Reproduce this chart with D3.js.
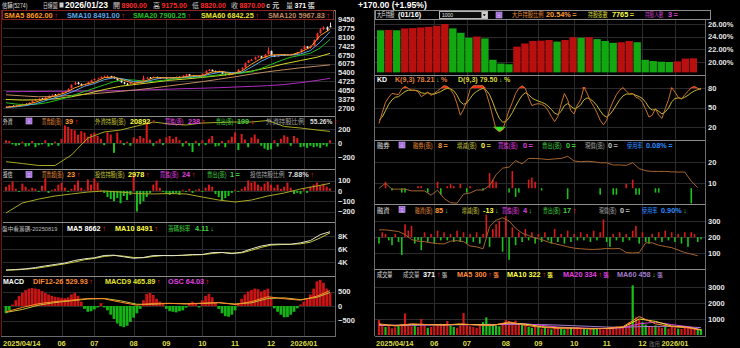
<!DOCTYPE html>
<html>
<head>
<meta charset="utf-8">
<script src="https://cdn.jsdelivr.net/npm/d3@7/dist/d3.min.js"></script>
<style>
  body { margin: 0; background: #000; }
  text { font-family: "Liberation Sans", "Noto Sans CJK TC", sans-serif; }
</style>
</head>
<body>
<svg id="chart" width="740" height="348"></svg>
<script>
// ---------- data (one sample every other trading day, 2025/04/14 .. 2026/01/23) ----------
const N = 100;
const monthIdx = [0, 17, 27, 39, 49, 60, 70, 81, 91];
const monthLabels = ["2025/04/14", "06", "07", "08", "09", "10", "11", "12", "2026/01"];

const open = [2750,2790,2860,2830,2920,2960,3010,3000,3120,3260,
  3360,3420,3390,3510,3640,3720,3690,3800,3920,3970,
  4200,4480,4620,4500,4420,4500,4660,4820,4920,4970,
  5060,5090,5110,5040,4940,4790,4640,4540,4510,4590,
  4610,4660,4720,4960,5010,4990,5060,5010,4990,5010,
  4960,5010,4990,5060,5010,5160,5260,5140,5060,5110,
  5100,5320,5520,5590,5490,5460,5490,5290,5210,5260,
  5360,5420,5620,5780,6120,6310,6380,6570,6610,6520,
  6780,7020,6690,6610,6690,6760,6710,6730,6790,6760,
  6920,7170,7360,7260,7420,7880,8380,8680,8820,8900];
const high = [2830,2880,2900,2930,2990,3040,3050,3130,3280,3400,
  3450,3460,3530,3650,3740,3760,3810,3950,4000,4200,
  4500,4700,4680,4560,4520,4700,4850,4950,5000,5100,
  5150,5180,5140,5080,4980,4830,4680,4600,4620,4660,
  4700,4760,5150,5060,5050,5090,5080,5040,5060,5030,
  5040,5050,5080,5090,5190,5290,5280,5170,5140,5130,
  5340,5560,5650,5620,5530,5550,5510,5320,5290,5390,
  5440,5650,5800,6150,6350,6420,6600,6680,6650,6800,
  7300,7060,6720,6720,6800,6790,6760,6820,6810,6950,
  7200,7450,7400,7450,7900,8400,8750,8900,8880,9175];
const low = [2700,2770,2800,2810,2890,2930,2950,2980,3100,3230,
  3330,3350,3370,3490,3610,3650,3670,3780,3880,3950,
  4180,4450,4480,4350,4380,4480,4640,4790,4880,4940,
  5020,5050,5000,4920,4760,4620,4500,4460,4490,4550,
  4580,4640,4700,4920,4940,4970,4970,4950,4960,4920,
  4940,4950,4970,4980,4990,5140,5120,5020,5040,5050,
  5080,5300,5490,5470,5420,5440,5280,5170,5190,5240,
  5340,5400,5600,5760,6100,6280,6360,6540,6450,6500,
  6760,6680,6560,6590,6670,6660,6680,6710,6710,6740,
  6900,7150,7200,7200,7400,7850,8350,8600,8550,8820];
const close = [2780,2850,2820,2900,2950,3000,2980,3100,3250,3350,
  3400,3380,3500,3620,3700,3680,3780,3900,3950,4150,
  4450,4600,4520,4400,4480,4650,4800,4900,4950,5050,
  5080,5100,5050,4950,4800,4650,4550,4500,4580,4600,
  4650,4700,4950,5000,4980,5050,5000,4980,5000,4950,
  5000,4980,5050,5000,5150,5250,5150,5050,5100,5080,
  5300,5500,5580,5500,5450,5500,5300,5200,5250,5350,
  5400,5600,5750,6100,6300,6350,6550,6600,6500,6750,
  7050,6700,6600,6680,6750,6700,6720,6780,6750,6900,
  7150,7350,7250,7400,7850,8350,8650,8800,8650,8870];

// moving averages, every 3rd sample
const sma5 = [2760,2840,2950,3140,3400,3620,3840,4230,4490,4650,5000,5050,4800,4570,4700,4990,5000,
  4980,5040,5150,5150,5440,5470,5280,5500,6020,6460,6720,6750,6720,6950,7300,8200,8662];
const sma10 = [2740,2790,2880,3020,3250,3480,3720,4000,4350,4550,4850,5000,4900,4700,4650,4850,4990,
  4990,5010,5080,5130,5300,5450,5380,5400,5800,6250,6600,6680,6730,6800,7050,7700,8491];
const sma20 = [3100,3000,2950,2980,3080,3250,3450,3700,3950,4200,4450,4700,4850,4820,4750,4720,4800,
  4900,4980,5020,5060,5150,5250,5320,5350,5450,5700,6000,6300,6550,6700,6850,7250,7900.25];
// every 5th sample
const sma60 = [3350,3300,3320,3400,3550,3800,4100,4350,4500,4650,4800,4900,5020,5150,5300,5500,5750,6050,6300,6550,6842.25];
const sma120 = [3700,3620,3550,3580,3650,3750,3850,3960,4080,4220,4380,4540,4700,4880,5070,5270,5450,5600,5750,5870,5967.83];
const sma240 = [3935,3945,3955,3965,3975,3985,3995,4020,4050,4090,4130,4170,4200,4240,4290,4340,4390,4480,4620,4790,4950];

// 外資 net buy (張) and holdings (every 5th sample)
const foreignNet = [40,30,-20,-40,-30,20,-50,-40,30,-60,
  -30,-20,40,-50,-30,20,-40,60,250,230,
  200,180,120,170,150,90,130,150,100,60,
  -30,150,120,-140,150,40,-30,20,-40,80,
  60,100,70,290,50,-40,30,60,-30,80,
  100,60,90,40,-50,30,-40,-130,30,-40,
  40,-30,60,100,-50,-40,30,-60,40,90,
  150,-100,130,50,-60,80,120,60,-40,-80,
  -100,-90,40,-50,60,110,90,-40,100,70,
  -60,-50,-70,-40,-60,-50,-70,-30,-50,39];
const foreignHold = [17256,17040,16800,16800,18060,20100,20820,21060,21540,22020,21780,
  21660,21900,21960,22020,22020,22200,21480,21300,21060,20892];
const foreignStats = [39, 20892, 238, 199, 55.26]; // net, hold, buy, sell, ratio %

// 投信 net buy (張) and holdings (every 5th sample)
const trustNet = [40,60,90,20,-10,70,40,10,30,20,
  -10,50,120,-20,10,20,60,80,30,-10,
  20,60,100,30,10,110,60,120,80,10,
  -20,-60,-80,-100,-70,-120,-50,-90,-40,150,
  -200,-130,-100,-60,-20,60,100,30,-10,-30,
  -40,-30,-20,-40,10,-10,20,-20,10,20,
  -10,30,60,40,-30,-60,-90,-70,-50,-20,
  10,-10,20,40,100,80,90,60,40,70,
  90,60,30,60,20,40,80,30,-30,-20,
  -30,20,-20,40,60,80,50,70,40,23];
const trustHold = [190,1130,1500,1790,1980,2160,2260,2160,2020,1980,2020,1980,1690,1410,1220,1410,1790,2070,2450,2730,2978];
const trustStats = [23, 2978, 24, 1, 7.88];

// MACD: OSC bars every sample, DIF / MACD9 every 5th sample
const osc = [-250,-150,50,200,350,450,550,600,620,600,
  580,520,450,400,350,320,300,280,270,300,
  400,450,350,150,-100,-200,-180,-120,-50,100,
  -50,-150,-300,-450,-600,-700,-730,-680,-550,-400,
  -250,-100,200,420,450,380,250,150,60,-100,
  -180,-200,-220,-180,-150,-60,100,150,80,-50,
  200,350,420,300,120,-100,-250,-350,-370,-300,
  -150,100,250,400,500,550,600,580,500,550,
  600,300,-80,-200,-300,-390,-380,-300,-200,-80,
  50,150,250,400,600,850,900,800,600,450];
const dif = [-200,-50,80,150,200,260,250,130,30,90,90,70,100,120,50,150,320,250,200,340,529.93];
const macd9 = [-220,-120,30,120,180,240,260,180,60,60,90,80,85,110,70,110,260,280,220,300,465.89];
const oscLast = 64.03;

// 大戶持股比例 (%), weekly, 40 weeks to 01/16
const holderPct = [25.0,25.05,25.0,25.3,25.35,25.45,25.55,25.7,26.0,25.3,
  24.6,23.8,24.0,23.7,20.3,19.7,19.6,22.4,22.9,23.3,
  23.35,23.45,23.2,23.45,23.9,23.8,23.9,23.6,23.3,23.0,
  23.1,23.3,23.1,20.3,20.1,20.0,19.95,20.05,20.5,20.54];
const holderStats = [20.54, 7765, 3];

// KD(9,3)
const kVals = [25,42,58,66,72,71,70,79,83,80,
  77,77,75,67,70,74,69,72,76,80,
  84,83,78,70,56,38,47,60,78,84,
  84,84,84,72,55,35,16,12,15,30,
  46,58,72,80,84,80,65,53,55,56,
  55,52,45,36,28,36,55,72,62,45,
  40,54,62,82,72,60,52,42,30,23,
  30,48,60,70,77,81,76,71,72,66,
  64,58,47,35,38,48,38,33,48,62,
  81,74,66,63,70,75,81,83,80,78.21];
const dVals = [30,35,45,55,62,66,67,71,75,77,
  77,77,76,73,72,73,71,71,73,75,
  78,80,79,76,69,59,55,57,64,71,
  75,78,80,77,70,58,44,33,27,28,
  34,42,52,61,69,73,70,65,62,60,
  58,56,52,47,41,39,44,53,56,52,
  48,50,54,62,65,63,59,53,45,38,
  35,39,46,54,62,68,71,71,71,69,
  67,64,58,50,46,47,44,40,43,49,
  59,64,65,64,66,69,73,76,78,79.5];

// 融券: balance every 2nd sample, change every sample
const shortBal = [7.7,10,7.3,7.3,7.3,6.5,6.5,6.5,4.5,6.8,
  3,1,0.8,5,5.5,6.9,6.9,9,14,17,
  17.5,20.5,19,21.5,21.5,21.3,21,21.3,21.5,22.5,
  20.3,20,20.2,20,19.5,19.5,18.5,18.5,18.3,19.5,
  16.8,15.8,15.5,15.5,15.5,15.3,15.2,15.2,11,8];
const shortChg = [0,0,3,0,-1,0,0,-2,-2,0,
  0,0,1,1,0,-2,0,0,3,-3,
  0,1,2,1,0,2,0,-2,1,0,
  0,0,-1,0,7,4,3,0,0,0,
  -2,8,-4,-2,0,0,4,5,3,0,
  -1,0,0,0,0,0,0,0,-5,0,
  0,0,0,0,0,0,0,0,-3,0,
  0,0,-3,-3,0,0,2,0,4,-3,
  -3,0,0,0,0,-2,-2,0,0,0,
  0,0,0,0,0,0,-7,0,0,0];

// 融資: balance every 2nd sample, change every sample
const marginBal = [245,245,240,235,216,185,175,172,165,160,
  158,175,178,172,145,140,128,265,305,320,
  300,255,225,210,195,185,170,160,150,140,
  132,128,125,124,126,130,128,130,105,102,
  104,165,165,150,142,135,120,105,95,85];
const marginChg = [-40,30,20,-20,-50,20,-30,-110,80,40,
  70,-40,-20,-80,30,-30,20,-40,40,-20,
  30,-20,20,-30,40,-30,30,-40,20,-30,
  30,-40,20,140,-60,50,80,100,-90,130,
  -140,60,-50,30,-30,50,-20,30,-40,20,
  -30,30,-20,-40,50,-30,20,-40,40,-30,
  20,-20,30,-20,20,-30,40,-20,30,110,
  -30,-60,20,-20,30,-30,20,-20,40,70,
  -40,30,-30,-40,20,-20,30,-30,40,-20,
  30,-30,20,-40,30,-60,30,20,-30,-13];

// 成交量 (張) and its moving averages (every 5th sample)
const volume = [950,600,500,550,420,480,600,700,1350,650,
  550,600,500,1000,600,450,500,550,600,700,
  650,880,600,500,450,600,1380,700,550,500,
  450,600,800,1100,700,650,600,550,700,950,
  850,800,900,750,650,600,500,450,500,550,
  400,450,400,350,500,450,400,350,400,450,
  420,500,450,400,350,380,400,420,380,350,
  400,450,500,550,450,500,600,800,3100,1100,
  950,800,650,550,500,600,500,450,500,400,
  550,450,400,380,450,500,420,380,350,371];
const vma5 = [700,560,700,650,620,700,620,600,820,600,480,420,430,380,420,520,1150,700,520,450,300];
const vma10 = [650,600,650,650,640,660,650,620,760,680,520,450,430,400,410,480,1000,850,560,480,322];
const vma20 = [620,610,630,640,650,650,650,640,700,700,600,500,450,420,410,450,700,800,650,520,334];
const vma60 = [600,600,610,620,630,640,650,650,660,660,650,620,580,540,500,480,520,540,540,510,458];

const chipSlope = 4.11;
const marginStats = [85, -13, 4, 17, 0, 0.90];
const shortStats = [8, 0, 0, 0, 0, 0.08];

// ---------- drawing ----------
const svg = d3.select("#chart");
svg.append("rect").attr("width", 740).attr("height", 348).attr("fill", "#000");

const xL = d3.scaleLinear().domain([0, N - 1]).range([6, 330]);
const xR = d3.scaleLinear().domain([0, N - 1]).range([379, 701]);
const RED = "#dd1a1a", GREEN = "#1cc21c";
const UPC = "#ff2020", DNC = "#40d040";
const last = a => a[a.length - 1];
const stepped = (a, s) => a.map((v, k) => [Math.min(k * s, N - 1), v]);
const f2 = d3.format(".2f");

let clipId = 0;
function panel(side, top, bottom, y, ticks, fmt) {
  const x = side == "L" ? xL : xR;
  const x0 = side == "L" ? 3 : 375, x1 = side == "L" ? 335 : 705;
  const g = svg.append("g");
  g.selectAll(".vg").data(monthIdx.slice(1)).enter().append("line")
    .attr("x1", d => Math.round(x(d)) + .5).attr("x2", d => Math.round(x(d)) + .5)
    .attr("y1", top).attr("y2", bottom).attr("stroke", "#2c2c2c");
  g.selectAll(".hg").data(ticks).enter().append("line")
    .attr("x1", x0).attr("x2", x1)
    .attr("y1", d => Math.round(y(d)) + .5).attr("y2", d => Math.round(y(d)) + .5)
    .attr("stroke", "#2c2c2c");
  g.append("line").attr("x1", x0).attr("x2", x1)
    .attr("y1", Math.round(top) + .5).attr("y2", Math.round(top) + .5).attr("stroke", "#8c8c8c");
  const ax = g.append("g").attr("transform", `translate(${x1 + 3},0)`)
    .call(d3.axisRight(y).tickValues(ticks).tickSize(0).tickPadding(0).tickFormat(fmt || d3.format("d")));
  ax.select(".domain").remove();
  ax.selectAll("text").attr("fill", "#e6e6e6").attr("font-size", 7.5).attr("font-weight", "bold");
  const id = "clip" + clipId++;
  svg.append("clipPath").attr("id", id).append("rect")
    .attr("x", x0).attr("y", top + 1).attr("width", x1 - x0).attr("height", bottom - top - 1);
  const plot = g.append("g").attr("clip-path", `url(#${id})`);
  return { g, plot, x, y };
}

function line(p, pts, color, y, w) {
  const ys = y || p.y;
  p.plot.append("path").datum(pts)
    .attr("fill", "none").attr("stroke", color).attr("stroke-width", w || 1)
    .attr("d", d3.line().x(d => p.x(d[0])).y(d => ys(d[1])));
}

function bars(p, vals, base, w, colorFn) {
  p.plot.selectAll(null).data(vals).enter().append("rect")
    .attr("x", (d, i) => p.x(i) - w / 2)
    .attr("y", d => Math.min(p.y(base), p.y(base + d)))
    .attr("width", w)
    .attr("height", d => Math.abs(p.y(base + d) - p.y(base)))
    .attr("fill", colorFn || (d => d >= 0 ? RED : GREEN));
}

// items: [x, text, colour, size, bold, width, tail]; tail = [[text, colour], ...] drawn as tspans
// a width squeezes the text horizontally to that many pixels
function row(y, items) {
  const g = svg.append("g");
  items.forEach(([x, s, color, size, bold, w, tail]) => {
    const t = g.append("text").attr("fill", color)
      .attr("font-size", size || 6.4).attr("font-weight", bold ? "bold" : "normal");
    t.append("tspan").text(s);
    (tail || []).forEach(([ts, tc, tsz]) =>
      t.append("tspan").attr("dx", 1.5).attr("fill", tc).attr("font-size", tsz || null).text(ts));
    const k = w ? Math.min(1, w / t.node().getComputedTextLength()) : 1;
    t.attr("transform", `translate(${x},${y}) scale(${k},1)`);
  });
}
// label (compressed CJK) + value with arrow
const lab = (x, s, c, w, size) => [x, s, c, size || 6.4, false, w - 1.5];
const val = (x, s, c, arrow, ac, size) => [x, s, c, size || 7.3, true, null, arrow ? [[arrow, ac]] : []];

function icon(x, y) {
  svg.append("rect").attr("x", x).attr("y", y).attr("width", 6).attr("height", 6)
    .attr("fill", "#9b5fd6").attr("stroke", "#d7b4ff").attr("stroke-width", .6);
  svg.append("path").attr("d", `M${x + 1.5},${y + 2}h3M${x + 1.5},${y + 3.5}h3M${x + 1.5},${y + 5}h3`)
    .attr("stroke", "#f0e0ff").attr("stroke-width", .5);
}

// frames
svg.append("line").attr("x1", 1.5).attr("x2", 1.5).attr("y1", 10).attr("y2", 336).attr("stroke", "#7a1010");
[335.5, 374.5, 705.5].forEach(x =>
  svg.append("line").attr("x1", x).attr("x2", x).attr("y1", 10).attr("y2", 336).attr("stroke", "#6a6a6a"));
svg.append("line").attr("x1", 1).attr("x2", 336).attr("y1", 336.5).attr("y2", 336.5).attr("stroke", "#6a6a6a");
svg.append("line").attr("x1", 375).attr("x2", 706).attr("y1", 336.5).attr("y2", 336.5).attr("stroke", "#6a6a6a");

// ---- price panel
const pP = panel("L", 10, 116, d3.scaleLinear().domain([2700, 9450]).range([108, 19]), d3.range(2700, 9451, 675));
const up = i => close[i] >= open[i];
pP.plot.selectAll(null).data(d3.range(N)).enter().append("line")
  .attr("x1", i => Math.round(pP.x(i)) + .5).attr("x2", i => Math.round(pP.x(i)) + .5)
  .attr("y1", i => pP.y(high[i])).attr("y2", i => pP.y(low[i]))
  .attr("stroke", i => up(i) ? "#ff3030" : "#e8e8e8");
pP.plot.selectAll(null).data(d3.range(N)).enter().append("rect")
  .attr("x", i => Math.round(pP.x(i)) - .5).attr("width", 2)
  .attr("y", i => pP.y(Math.max(open[i], close[i])))
  .attr("height", i => Math.max(1, Math.abs(pP.y(open[i]) - pP.y(close[i]))))
  .attr("fill", i => up(i) ? "#ff3030" : "#e8e8e8");
line(pP, stepped(sma240, 5), "#b02cc0");
line(pP, stepped(sma120, 5), "#c08a62");
line(pP, stepped(sma60, 5), "#d6d626");
line(pP, stepped(sma20, 3), "#22c022");
line(pP, stepped(sma10, 3), "#5aa8e8");
line(pP, stepped(sma5, 3), "#ff9a1a");

svg.append("rect").attr("x", 2.5).attr("y", 10.5).attr("width", 331).attr("height", 9)
  .attr("fill", "#000").attr("stroke", "#8a2020");
row(17.5, [
  val(4, "SMA5 " + f2(last(sma5)), "#ff9a1a", "↑", UPC),
  val(67, "SMA10 " + f2(last(sma10)), "#5aa8e8", "↑", UPC),
  val(133, "SMA20 " + f2(last(sma20)), "#22c022", "↑", UPC),
  val(201, "SMA60 " + f2(last(sma60)), "#e6e62a", "↑", UPC),
  val(268, "SMA120 " + f2(last(sma120)), "#c08a62", "↑", UPC)
]);

// header
row(8.3, [
  lab(2, "信驊(5274)", "#dcdcdc", 27, 7), lab(43, "日線圖", "#dcdcdc", 16, 7),
  [65, "2026/01/23", "#ffffff", 8.6, true],
  [113, "開", "#cfcfcf", 7, false, null, [[f2(open[N - 1]), "#ff2a2a"]]],
  [153, "高", "#cfcfcf", 7, false, null, [[f2(high[N - 1]), "#ff2a2a"]]],
  [192, "低", "#cfcfcf", 7, false, null, [[f2(low[N - 1]), "#ff2a2a"]]],
  [231, "收", "#cfcfcf", 7, false, null, [[f2(close[N - 1]), "#ff2a2a"], ["c 元", "#cfcfcf"]]],
  [286, "量", "#cfcfcf", 7, false, null, [[String(last(volume)), "#ffffff"], ["張", "#cfcfcf"]]],
  [358, "+170.00 (+1.95%)", "#ffffff", 8.6, true]
]);
svg.selectAll("text").filter(function () { return /,8\.3\)/.test(this.getAttribute("transform") || ""); })
  .selectAll("tspan").filter((d, i) => i > 0).attr("font-weight", "bold");
svg.append("rect").attr("x", 59.5).attr("y", 2.5).attr("width", 4).attr("height", 5).attr("fill", "#cfcfcf");

// ---- 外資
const pF = panel("L", 116, 169, d3.scaleLinear().domain([-200, 200]).range([157, 129]), [200, 0, -200]);
bars(pF, foreignNet, 0, 2);
line(pF, stepped(foreignHold, 5), "#a8a824", d3.scaleLinear().domain([16500, 22500]).range([168, 118]));
icon(26, 118);
row(123.5, [
  lab(3, "外資", "#e0e0e0", 11), lab(42, "買賣超(張)", "#e08a3a", 21),
  val(65, String(foreignStats[0]), "#ff9a33", "↑", UPC),
  lab(95, "外資持股(張)", "#c8c83c", 32), val(130, String(foreignStats[1]), "#ffff44", "↑", UPC),
  lab(165, "買進(張)", "#e040e0", 20), val(188, String(foreignStats[2]), "#e040e0", "↑", UPC),
  lab(216, "賣出(張)", "#40d040", 19), val(237, String(foreignStats[3]), "#40d040", "↓", UPC),
  lab(266, "外資持股比例", "#a8a8a8", 41), [310, foreignStats[4].toFixed(2) + "%", "#dcdcdc", 6.6, true, null, [["↑", UPC]]]
]);

// ---- 投信
const pT = panel("L", 169, 222, d3.scaleLinear().domain([-200, 100]).range([211.5, 180.5]), [100, 0, -100, -200]);
bars(pT, trustNet, 0, 2);
line(pT, stepped(trustHold, 5), "#a8a824", d3.scaleLinear().domain([0, 3200]).range([215, 181]));
icon(26, 171.5);
row(177, [
  lab(3, "投信", "#e0e0e0", 11), lab(42, "買賣超(張)", "#e08a3a", 23),
  val(67, String(trustStats[0]), "#ff9a33", "↑", UPC),
  lab(95, "投信持股(張)", "#c8c83c", 31), val(128, String(trustStats[1]), "#ffff44", "↑", UPC),
  lab(160, "買進(張)", "#e040e0", 20), val(182, String(trustStats[2]), "#e040e0", "↑", UPC),
  lab(207, "賣出(張)", "#40d040", 21), val(230, String(trustStats[3]), "#40d040", "=", DNC),
  lab(250, "投信持股比例", "#a8a8a8", 36), val(288, trustStats[4].toFixed(2) + "%", "#dcdcdc", "↑", UPC)
]);

// ---- 盤中看籌碼
const pC = panel("L", 222, 276, d3.scaleLinear().domain([4000, 8000]).range([262, 236]), [8000, 6000, 4000], d => d / 1000 + "K");
line(pC, stepped(sma10, 3), "#c8c83a");
line(pC, stepped(sma5, 3), "#e4e4c8");
row(230.5, [
  lab(2, "盤中看籌碼-20250819", "#bdbdbd", 57, 6),
  val(67, "MA5 " + Math.round(last(sma5)), "#ffffff", "↑", UPC),
  val(115, "MA10 " + Math.round(last(sma10)), "#ffff44", "↑", UPC),
  lab(168, "籌碼斜率", "#40d040", 24), val(195, chipSlope.toFixed(2), "#40d040", "↓", DNC)
]);

// ---- MACD
const pM = panel("L", 276, 336, d3.scaleLinear().domain([-500, 500]).range([320.5, 291.5]), [500, 0, -500]);
bars(pM, osc, 0, 2.8, d => d >= 0 ? "#c81414" : "#14b414");
line(pM, stepped(macd9, 5), "#c8c03a");
line(pM, stepped(dif, 5), "#ff8a2a");
row(283.5, [
  [3, "MACD", "#ffffff", 7, true],
  val(33, "DIF12-26 " + f2(last(dif)), "#ff8a2a", "↑", UPC),
  val(105, "MACD9 " + f2(last(macd9)), "#e6e62a", "↑", UPC),
  val(168, "OSC " + f2(oscLast), "#e040e0", "↑", UPC)
]);

// ---- 大戶持股
const pH = panel("R", 10, 75, d3.scaleLinear().domain([20, 26]).range([61.7, 24]), [26, 24, 22, 20], d => d.toFixed(2) + "%");
const band = d3.scaleBand().domain(d3.range(holderPct.length)).range([377, 697]).paddingInner(0.08);
pH.plot.selectAll(null).data(holderPct).enter().append("rect")
  .attr("x", (d, i) => band(i)).attr("width", band.bandwidth())
  .attr("y", d => pH.y(d)).attr("height", d => pH.y(18.3) - pH.y(d))
  .attr("fill", (d, i) => i > 0 && d > holderPct[i - 1] ? "#b80f0f" : "#12a812");
svg.append("rect").attr("x", 375.5).attr("y", 10.5).attr("width", 335).attr("height", 9)
  .attr("fill", "#000").attr("stroke", "#8c8c8c");
svg.append("rect").attr("x", 439.5).attr("y", 11.5).attr("width", 48).attr("height", 7)
  .attr("fill", "#0a0a0a").attr("stroke", "#b8b8b8");
svg.append("rect").attr("x", 481.5).attr("y", 12).attr("width", 5.5).attr("height", 6).attr("fill", "#d0d0d0");
svg.append("path").attr("d", "M482.8,14.2h3l-1.5,2z").attr("fill", "#000");
icon(496, 12);
row(17.3, [
  lab(377, "大戶持股", "#e0e0e0", 19), [398, "(01/16)", "#ffffff", 7.3, true], [442, "1000", "#e0e0e0", 5],
  lab(512, "大戶持股比例", "#e08a3a", 33), val(546, holderStats[0].toFixed(2) + "%", "#ff9a33", "=", "#e08a3a"),
  lab(588, "持股張數", "#d8d83a", 21), val(612, String(holderStats[1]), "#ffff44", "=", "#d8d83a"),
  lab(645, "持股人數", "#c040c0", 20), val(668, String(holderStats[2]), "#e040e0", "=", "#c040c0")
]);

// ---- KD
const pK = panel("R", 75, 139.5, d3.scaleLinear().domain([20, 80]).range([126.7, 88.3]), [80, 50, 20]);
pK.plot.append("path").datum(kVals).attr("fill", "#ff2a1a")
  .attr("d", d3.area().x((d, i) => pK.x(i)).y0(pK.y(80)).y1(d => pK.y(Math.max(d, 80))));
pK.plot.append("path").datum(kVals).attr("fill", "#28e628")
  .attr("d", d3.area().x((d, i) => pK.x(i)).y0(pK.y(20)).y1(d => pK.y(Math.min(d, 20))));
line(pK, dVals.map((v, i) => [i, v]), "#c8b834");
line(pK, kVals.map((v, i) => [i, v]), "#c8742c");
row(82, [
  [377, "KD", "#ffffff", 7, true],
  [395, "K(9,3) " + f2(last(kVals)), "#e0803a", 7.1, true, null, [["↓", DNC], ["%", "#e0803a"]]],
  [458, "D(9,3) " + f2(last(dVals)), "#d8d83a", 7.1, true, null, [["↓", DNC], ["%", "#d8d83a"]]]
]);

// ---- 融券
const pS = panel("R", 139.5, 204, d3.scaleLinear().domain([10, 20]).range([183.3, 161.7]), [20, 10]);
bars(pS, shortChg, 7.7, 1.6);
line(pS, stepped(shortBal, 2), "#a4642e");
icon(399, 142);
row(147.5, [
  lab(377, "融券", "#e0e0e0", 14),
  lab(413, "融券(張)", "#e08a3a", 21), val(438, String(shortStats[0]), "#ff9a33", "=", "#e08a3a"),
  lab(457, "增減(張)", "#c8c83c", 21), val(481, String(shortStats[1]), "#ffff44", "=", "#c8c83c"),
  lab(498, "買進(張)", "#e040e0", 21), val(523, String(shortStats[2]), "#e040e0", "=", "#e040e0"),
  lab(542, "賣出(張)", "#40d040", 21), val(566, String(shortStats[3]), "#40d040", "=", "#40d040"),
  lab(585, "現償(張)", "#a8a8a8", 21), val(608, String(shortStats[4]), "#c8c8c8", "=", "#a8a8a8"),
  lab(627, "使用率", "#2e8cff", 17), val(646, shortStats[5].toFixed(2) + "%", "#2e8cff", "=", "#2e8cff")
]);

// ---- 融資
const pG = panel("R", 204, 268.5, d3.scaleLinear().domain([100, 300]).range([253.3, 221]), [300, 200, 100]);
bars(pG, marginChg, 200, 1.6);
line(pG, stepped(marginBal, 2), "#a4642e");
icon(399, 206.5);
row(212.5, [
  lab(377, "融資", "#e0e0e0", 14),
  lab(415, "融資(張)", "#e08a3a", 19), val(435, String(marginStats[0]), "#ff9a33", "↓", DNC),
  lab(462, "增減(張)", "#c8c83c", 19), val(483, String(marginStats[1]), "#ffff44", "↓", DNC),
  lab(502, "買進(張)", "#e040e0", 19), val(523, String(marginStats[2]), "#e040e0", "↓", DNC),
  lab(543, "賣出(張)", "#40d040", 19), val(563, String(marginStats[3]), "#40d040", "↑", UPC),
  lab(599, "現償(張)", "#a8a8a8", 19), val(620, String(marginStats[4]), "#c8c8c8", "=", "#a8a8a8"),
  lab(642, "使用率", "#2e8cff", 17), val(661, marginStats[5].toFixed(2) + "%", "#2e8cff", "↓", DNC)
]);

// ---- 成交量
const pV = panel("R", 268.5, 336, d3.scaleLinear().domain([0, 3000]).range([335, 287]), [3000, 2000, 1000]);
bars(pV, volume, 0, 2.2, (d, i) => up(i) ? "#d01818" : "#18c018");
line(pV, stepped(vma60, 5), "#a07cc8");
line(pV, stepped(vma20, 5), "#e040e0");
line(pV, stepped(vma10, 5), "#e6e62a");
line(pV, stepped(vma5, 5), "#ff8a3a");
const volTail = (c, ac, a) => [[a, ac], ["張", c, 5.5]];
row(276.5, [
  lab(377, "成交量", "#e0e0e0", 17), lab(403, "成交量", "#c8c8c8", 18),
  [423, String(last(volume)), "#ffffff", 7.3, true, null, volTail("#a8a8a8", UPC, "↑")],
  [457, "MA5 " + last(vma5), "#ff8a3a", 7.3, true, null, volTail("#ff8a3a", UPC, "↑")],
  [507, "MA10 " + last(vma10), "#ffff44", 7.3, true, null, volTail("#ffff44", UPC, "↑")],
  [563, "MA20 " + last(vma20), "#e040e0", 7.3, true, null, volTail("#e040e0", UPC, "↑")],
  [617, "MA60 " + last(vma60), "#a07cc8", 7.3, true, null, volTail("#a07cc8", DNC, "↓")]
]);

// ---- date axes
function dateAxis(x) {
  svg.append("g").selectAll("text").data(monthIdx).enter().append("text")
    .attr("x", (d, k) => k == 0 ? x(0) - 3 : x(d))
    .attr("y", 346)
    .attr("text-anchor", (d, k) => k == 0 ? "start" : "middle")
    .attr("fill", "#dcdc40").attr("font-size", 7.5).attr("font-weight", "bold")
    .text((d, k) => monthLabels[k]);
}
dateAxis(xL);
dateAxis(xR);
svg.append("text").attr("x", 649).attr("y", 346).attr("fill", "#9a9a9a").attr("opacity", .7)
  .attr("font-size", 5.5).text("啟用");
</script>
</body>
</html>
